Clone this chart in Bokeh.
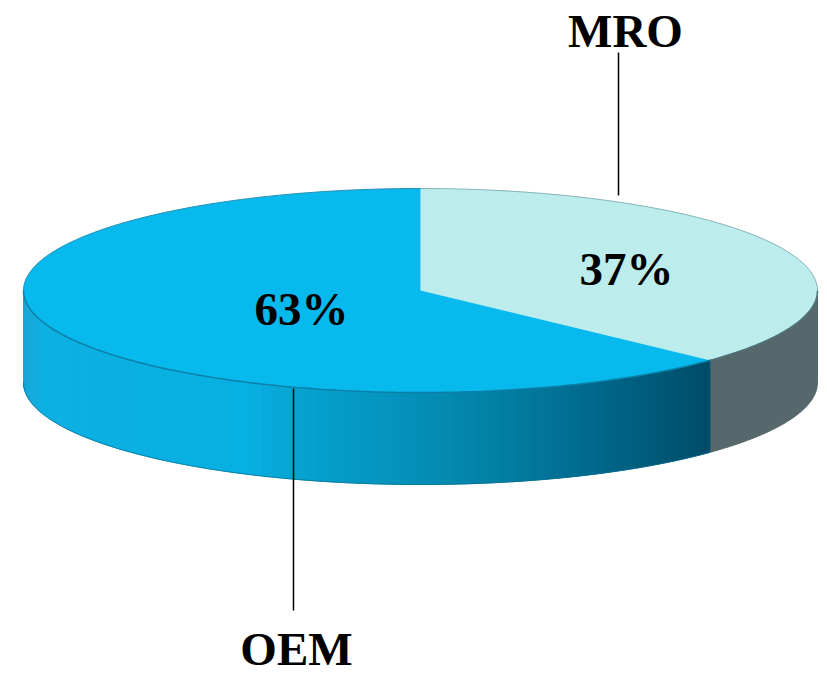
import math
from bokeh.plotting import figure
from bokeh.models import Range1d
from bokeh.core.properties import value
from bokeh.embed import file_html
from bokeh.resources import INLINE

categories = ["MRO", "OEM"]
shares = [37, 63]
share_labels = ["37%", "63%"]

CX, CY, RX, RY, DEPTH = 420, 290, 397, 102, 92

p = figure(width=827, height=674, x_range=Range1d(0, 827), y_range=Range1d(674, 0),
           output_backend="svg", toolbar_location=None, min_border=0)
p.axis.visible = False
p.grid.visible = False
p.outline_line_color = None
p.background_fill_color = "white"


def arc(t0, t1, n, dy=0):
    """Ellipse points, clockwise angle measured from the top."""
    pts = [t0 + (t1 - t0) * i / n for i in range(n + 1)]
    return ([CX + RX * math.sin(t) for t in pts],
            [CY + dy - RY * math.cos(t) for t in pts])


split = 2 * math.pi * shares[0] / sum(shares)

side_stops = [(22, "#19a6d6"), (45, "#0cb0e2"), (250, "#07b0e2"), (300, "#07a2cf"),
              (400, "#0492bc"), (500, "#037fa3"), (600, "#00678a"),
              (710, "#004c68")]


def hex_rgb(h):
    return tuple(int(h[i:i + 2], 16) for i in (1, 3, 5))


def side_color(x):
    for (x0, c0), (x1, c1) in zip(side_stops, side_stops[1:]):
        if x <= x1:
            f = max(0, (x - x0) / (x1 - x0))
            a, b = hex_rgb(c0), hex_rgb(c1)
            return "#%02x%02x%02x" % tuple(round(a[i] + (b[i] - a[i]) * f) for i in range(3))
    return side_stops[-1][1]


# Side wall, MRO part (grey)
ax, ay = arc(split, math.pi / 2, 40)
bx, by = arc(math.pi / 2, split, 40, DEPTH)
p.patch(ax + bx, ay + by, fill_color="#56686b", line_color="#56686b", line_width=1)

# Side wall, OEM part (gradient in strips, seen from the left edge to the split)
n_strips = 140
t_start, t_end = 3 * math.pi / 2, split
for i in range(n_strips):
    t0 = t_start + (t_end - t_start) * i / n_strips
    t1 = t_start + (t_end - t_start) * (i + 1) / n_strips
    ax, ay = arc(t0, t1, 2)
    bx, by = arc(t1, t0, 2, DEPTH)
    c = side_color((ax[0] + ax[-1]) / 2)
    p.patch(ax + bx, ay + by, fill_color=c, line_color=c, line_width=1)

# Lower rim of the wall
bx, by = arc(split, 3 * math.pi / 2, 120, DEPTH)
p.line(bx, by, line_color="#0a6d8e", line_width=1, line_alpha=0.7)

# Top faces
ax, ay = arc(0, split, 120)
p.patch([CX] + ax, [CY] + ay, fill_color="#bcecec", line_color=None)
ax, ay = arc(split, 2 * math.pi, 200)
p.patch([CX] + ax, [CY] + ay, fill_color="#08b9ee", line_color=None)

# Rims of the top face
ax, ay = arc(split, 3 * math.pi / 2, 160)
p.line(ax, ay, line_color="#0b7fa5", line_width=1.5)
ax, ay = arc(math.pi / 2, split, 60)
p.line(ax, ay, line_color="#4f7378", line_width=1.5)
ax, ay = arc(0, math.pi / 2, 60)
p.line(ax, ay, line_color="#86b4b8", line_width=1)
ax, ay = arc(3 * math.pi / 2, 2 * math.pi, 60)
p.line(ax, ay, line_color="#2a8fb5", line_width=1)

# Leader lines
p.line([618, 618], [52, 195], line_color="black", line_width=1.5)
p.line([293, 293], [388, 610], line_color="black", line_width=1.5)

serif = value("Liberation Serif")
style = dict(text_font=serif, text_font_style="bold", text_font_size="47px",
             text_align="center", text_baseline="alphabetic", text_color="black", y_offset=-16)
p.text([625], [46], text=[categories[0]], **style)
p.text([296], [664], text=[categories[1]], **style)
p.text([626], [284], text=[share_labels[0]], **style)
p.text([301], [324], text=[share_labels[1]], **style)

open("out.html", "w").write(file_html(p, INLINE))
